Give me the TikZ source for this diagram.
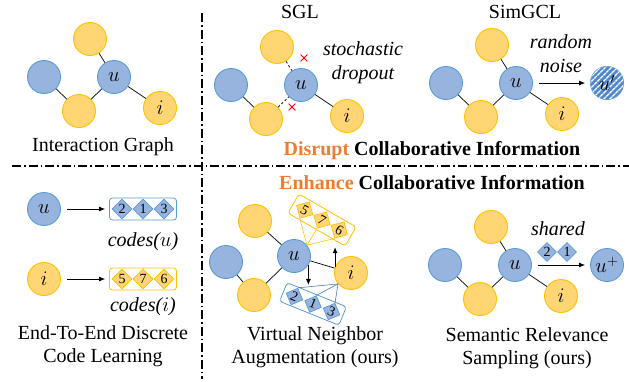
\documentclass[tikz,border=0pt]{standalone}
\usepackage{fontspec}
\setmainfont{Liberation Serif}
\usetikzlibrary{shapes,shapes.geometric,shapes.misc,arrows.meta,positioning,calc,patterns.meta}
\definecolor{ublue}{RGB}{150,180,222}
\definecolor{ubluedraw}{RGB}{91,155,213}
\definecolor{iyellow}{RGB}{255,214,115}
\definecolor{iyellowdraw}{RGB}{255,192,0}
\definecolor{hlorange}{RGB}{237,125,49}
\definecolor{noiseblue}{RGB}{80,135,205}

\begin{document}
\begin{tikzpicture}[
    x=1pt,y=-1pt,on grid,
    unode/.style={circle,minimum size=33pt,inner sep=0pt,draw=ubluedraw,fill=ublue,line width=0.9pt},
    inode/.style={circle,minimum size=33pt,inner sep=0pt,draw=iyellowdraw,fill=iyellow,line width=0.9pt},
    every label/.style={font=\fontsize{22}{22}\selectfont,inner sep=0pt},
    link/.style={line width=0.7pt},
    droplink/.style={line width=0.7pt,dash pattern=on 2.5pt off 2pt},
    arr/.style={-{Latex[length=6pt,width=5pt]},line width=0.8pt},
    txt/.style={font=\fontsize{20}{23}\selectfont,align=center,inner sep=0pt},
    itxt/.style={font=\fontsize{20}{24}\selectfont\itshape,align=center,inner sep=0pt},
    bcode/.style={diamond,aspect=1,minimum size=20pt,inner sep=0pt,draw=ubluedraw,fill=ublue,line width=0.7pt,font=\fontsize{14}{14}\selectfont},
    ycode/.style={diamond,aspect=1,minimum size=20pt,inner sep=0pt,draw=iyellowdraw,fill=iyellow,line width=0.7pt,font=\fontsize{14}{14}\selectfont},
    bbox/.style={rectangle,rounded corners=3pt,draw=ubluedraw,line width=0.8pt},
    ybox/.style={rectangle,rounded corners=3pt,draw=iyellowdraw,line width=0.8pt},
    bfan/.style={draw=ubluedraw!80!black,line width=0.6pt},
    yfan/.style={draw=iyellowdraw,line width=0.6pt},
    xmark/.style={cross out,draw=red,minimum size=6pt,inner sep=0pt,line width=0.8pt},
    sepline/.style={line width=1.1pt,dash pattern=on 9pt off 3pt on 1.5pt off 3pt}]
    \useasboundingbox (0,0) rectangle (629,381);

    % dividers
    \coordinate (VTop) at (202,13);
    \coordinate (VBot) at (202,379);
    \coordinate (HLeft) at (12,166);
    \coordinate (HRight) at (629,166);
    \draw[sepline] (VTop) -- (VBot);
    \draw[sepline] (HLeft) -- (HRight);

    % interaction graph
    \node[label=center:$u$,unode] (U1) at (114,77) {};
    \node[inode] (T1) [above left=38pt and 24pt of U1] {};
    \node[unode] (B1) [left=70pt of U1] {};
    \node[inode] (Y1) [below left=34pt and 35pt of U1] {};
    \node[label=center:$i$,inode] (I1) [below right=31pt and 46pt of U1] {};
    \draw[link] (T1) -- (U1);
    \draw[link] (B1) -- (Y1);
    \draw[link] (Y1) -- (U1);
    \draw[link] (U1) -- (I1);
    \node[txt] (LabIG) at (103,147) {Interaction Graph};

    % SGL
    \node[txt] (LabSGL) at (300,12) {SGL};
    \node[label=center:$u$,unode] (U2) at (301,85) {};
    \node[inode] (T2) [above left=38pt and 24pt of U2] {};
    \node[unode] (B2) [left=70pt of U2] {};
    \node[inode] (Y2) [below left=34pt and 35pt of U2] {};
    \node[label=center:$i$,inode] (I2) [below right=31pt and 46pt of U2] {};
    \draw[droplink] (T2) -- (U2);
    \draw[link] (B2) -- (Y2);
    \draw[droplink] (Y2) -- (U2);
    \draw[link] (U2) -- (I2);
    \node[xmark] (X1) at (304,58) {};
    \node[xmark] (X2) at (292,107) {};
    \node[itxt] (LabDrop) at (363,63) {stochastic\\dropout};

    % SimGCL
    \node[txt] (LabSim) at (525,12) {SimGCL};
    \node[label=center:$u$,unode] (U3) at (516,83) {};
    \node[inode] (T3) [above left=38pt and 24pt of U3] {};
    \node[unode] (B3) [left=70pt of U3] {};
    \node[inode] (Y3) [below left=34pt and 35pt of U3] {};
    \node[label=center:$i$,inode] (I3) [below right=31pt and 46pt of U3] {};
    \draw[link] (T3) -- (U3);
    \draw[link] (B3) -- (Y3);
    \draw[link] (Y3) -- (U3);
    \draw[link] (U3) -- (I3);
    \node[label=center:$u'$,unode,fill=noiseblue,
      postaction={pattern={Lines[angle=45,distance=4pt,line width=1.4pt]},pattern color=white}] (UN) at (607,83) {};
    \draw[arr,shorten <=6pt,shorten >=5pt] (U3) -- (UN);
    \node[itxt] (LabNoise) at (561,54) {random\\noise};

    \node[txt,font=\fontsize{20}{23}\selectfont\bfseries] (LabDisrupt) at (432,151)
      {\textcolor{hlorange}{Disrupt} Collaborative Information};
    \node[txt,font=\fontsize{20}{23}\selectfont\bfseries] (LabEnhance) at (432,183)
      {\textcolor{hlorange}{Enhance} Collaborative Information};

    % discrete codes
    \node[label=center:$u$,unode] (UC) at (44,209) {};
    \node[bbox,minimum width=67pt,minimum height=22pt] (CodeU) at (143,209) {};
    \node[bcode] (CU1) at (143,209) {1};
    \node[bcode] (CU2) [left=21pt of CU1] {2};
    \node[bcode] (CU3) [right=21pt of CU1] {3};
    \draw[arr,shorten <=6pt,shorten >=4pt] (UC) -- (CodeU);
    \node[itxt] (LabCodeU) [below=33pt of CodeU] {codes($u$)};

    \node[label=center:$i$,inode] (IC) at (44,279) {};
    \node[ybox,minimum width=67pt,minimum height=22pt] (CodeI) at (143,279) {};
    \node[ycode] (CI7) at (143,279) {7};
    \node[ycode] (CI5) [left=21pt of CI7] {5};
    \node[ycode] (CI6) [right=21pt of CI7] {6};
    \draw[arr,shorten <=6pt,shorten >=4pt] (IC) -- (CodeI);
    \node[itxt] (LabCodeI) [below=28pt of CodeI] {codes($i$)};
    \node[txt] (LabE2E) at (103,346) {End-To-End Discrete\\Code Learning};

    % virtual neighbor augmentation
    \node[label=center:$u$,unode] (U5) at (294,256) {};
    \node[inode] (T5) [above left=35pt and 39pt of U5] {};
    \node[unode] (B5) [below left=6pt and 68pt of U5] {};
    \node[inode] (Y5) [below left=39pt and 40pt of U5] {};
    \node[label=center:$i$,inode] (I5) [below right=17pt and 57pt of U5] {};
    \draw[link] (T5) -- (U5);
    \draw[link] (B5) -- (Y5);
    \draw[link] (Y5) -- (U5);
    \draw[link] (U5) -- (I5);
    \begin{scope}[shift={(322,220)},rotate=-30,transform shape]
      \node[ybox,minimum width=66pt,minimum height=22pt] (VBoxI) at (0,0) {};
      \node[ycode,minimum size=19pt] (VI7) at (0,0) {7};
      \node[ycode,minimum size=19pt] (VI5) at (-20,0) {5};
      \node[ycode,minimum size=19pt] (VI6) at (20,0) {6};
    \end{scope}
    \begin{scope}[shift={(313,304)},rotate=-22,transform shape]
      \node[bbox,minimum width=64pt,minimum height=20pt] (VBoxU) at (0,0) {};
      \node[bcode,minimum size=18pt] (VU1) at (0,0) {1};
      \node[bcode,minimum size=18pt] (VU2) at (-20,0) {2};
      \node[bcode,minimum size=18pt] (VU3) at (20,0) {3};
    \end{scope}
    \draw[yfan] (U5.40) -- (VI5.south);
    \draw[yfan] (U5.40) -- (VI7.south);
    \draw[yfan] (U5.40) -- (VI6.south);
    \draw[bfan] (I5.220) -- (VU2.north);
    \draw[bfan] (I5.220) -- (VU1.north);
    \draw[bfan] (I5.220) -- (VU3.north);
    \draw[arr] (I5.160) -- ++(0,-20);
    \draw[arr] (U5.-32) -- ++(0,20);
    \node[txt] (LabVNA) at (315,347) {Virtual Neighbor\\Augmentation (ours)};

    % semantic relevance sampling
    \node[label=center:$u$,unode] (U6) at (515,265) {};
    \node[inode] (T6) [above left=38pt and 24pt of U6] {};
    \node[unode] (B6) [left=70pt of U6] {};
    \node[inode] (Y6) [below left=34pt and 35pt of U6] {};
    \node[label=center:$i$,inode] (I6) [below right=31pt and 46pt of U6] {};
    \draw[link] (T6) -- (U6);
    \draw[link] (B6) -- (Y6);
    \draw[link] (Y6) -- (U6);
    \draw[link] (U6) -- (I6);
    \node[label=center:$u^{+}$,unode] (UP) at (607,265) {};
    \draw[arr,shorten <=6pt,shorten >=5pt] (U6) -- (UP);
    \node[bcode,minimum size=19pt] (SC2) at (547,252) {2};
    \node[bcode,minimum size=19pt] (SC1) [right=20pt of SC2] {1};
    \node[itxt] (LabShared) at (558,229) {shared};
    \node[txt] (LabSRS) at (527,348) {Semantic Relevance\\Sampling (ours)};
\end{tikzpicture}
\end{document}
